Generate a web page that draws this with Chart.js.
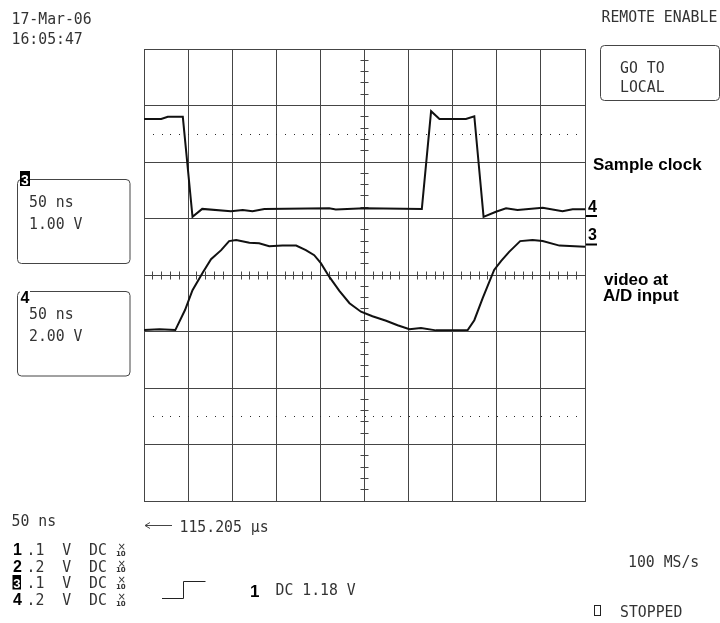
<!DOCTYPE html>
<html>
<head>
<meta charset="utf-8">
<script src="https://cdn.jsdelivr.net/npm/chart.js@4"></script>
<style>
  html, body { margin: 0; padding: 0; background: #fff; }
  #wrap { width: 720px; height: 623px; position: relative; }
</style>
</head>
<body>
<div id="wrap"><canvas id="scope"></canvas></div>
<script>
// trace values in screen divisions (x: 0..10, y: -4..4)
const clockX = [0, 0.39, 0.54, 0.88, 1.10, 1.32, 1.97, 2.24, 2.46, 2.73, 4.20, 4.35, 5.00, 6.30, 6.51, 6.70, 7.30, 7.49, 7.70, 7.98, 8.21, 8.47, 9.04, 9.49, 9.72, 10];
const clockY = [2.76, 2.76, 2.80, 2.80, 1.03, 1.17, 1.13, 1.15, 1.13, 1.17, 1.18, 1.16, 1.18, 1.17, 2.90, 2.76, 2.76, 2.81, 1.03, 1.12, 1.18, 1.15, 1.19, 1.13, 1.165, 1.165];
const videoX = [0, 0.35, 0.71, 0.93, 1.10, 1.33, 1.52, 1.75, 1.93, 2.09, 2.39, 2.61, 2.84, 3.14, 3.45, 3.67, 3.86, 4.01, 4.20, 4.43, 4.66, 4.92, 5.18, 5.49, 5.75, 6.02, 6.28, 6.62, 7.34, 7.49, 7.68, 7.94, 8.10, 8.28, 8.53, 8.81, 9.04, 9.42, 10];
const videoY = [-0.975, -0.96, -0.975, -0.62, -0.27, 0.04, 0.28, 0.44, 0.60, 0.62, 0.57, 0.56, 0.51, 0.52, 0.52, 0.44, 0.35, 0.21, -0.03, -0.28, -0.50, -0.65, -0.73, -0.81, -0.89, -0.96, -0.94, -0.98, -0.975, -0.80, -0.41, 0.09, 0.25, 0.41, 0.60, 0.62, 0.60, 0.52, 0.50];
const dottedLevels = [2.5, -2.5];

// screen texts
const headerLines = ['17-Mar-06', '16:05:47'];
const remoteText = 'REMOTE ENABLE';
const localLines = ['GO TO', 'LOCAL'];
const ch3Lines = ['50 ns', '1.00 V'];
const ch4Lines = ['50 ns', '2.00 V'];
const timebaseText = '50 ns';
const delayText = '115.205 µs';
const channelIds = ['1', '2', '3', '4'];
const channelScales = ['.1  V  DC', '.2  V  DC', '.1  V  DC', '.2  V  DC'];
const triggerSource = '1';
const triggerText = 'DC 1.18 V';
const rateText = '100 MS/s';
const stateText = 'STOPPED';
const clockLabel = 'Sample clock';
const videoLabel = ['video at', 'A/D input'];

const GRID = '#454545';
const INK = '#333';

const toPoints = (xs, ys) => xs.map((v, i) => ({x: v, y: ys[i]}));
const align = p => Math.round(p - 0.5) + 0.5;

function mono(ctx, s, x, y) {
  ctx.save();
  ctx.font = '16px "DejaVu Sans Mono", monospace';
  ctx.translate(x, y);
  ctx.scale(0.925, 1);
  ctx.fillText(s, 0, 0);
  ctx.restore();
}

function bold(ctx, s, x, y, size) {
  ctx.font = 'bold ' + size + 'px "Liberation Sans", Arial, sans-serif';
  ctx.fillText(s, x, y);
}

function roundBox(ctx, x, y, w, h, r) {
  ctx.beginPath();
  ctx.moveTo(x + r, y);
  ctx.arcTo(x + w, y, x + w, y + h, r);
  ctx.arcTo(x + w, y + h, x, y + h, r);
  ctx.arcTo(x, y + h, x, y, r);
  ctx.arcTo(x, y, x + w, y, r);
  ctx.closePath();
  ctx.stroke();
}

const scopeOverlay = {
  id: 'scopeOverlay',
  beforeDatasetsDraw(chart) {
    const {ctx, scales: {x, y}} = chart;
    ctx.save();
    // dotted reference levels
    ctx.fillStyle = '#2a2a2a';
    dottedLevels.forEach(level => {
      const py = Math.round(y.getPixelForValue(level));
      for (let k = 1; k < 50; k++) {
        ctx.fillRect(Math.round(x.getPixelForValue(k / 5)), py, 1, 1);
      }
    });
    // minor ticks on the centre cross
    ctx.strokeStyle = GRID;
    ctx.lineWidth = 1;
    const cx = align(x.getPixelForValue(5));
    const cy = align(y.getPixelForValue(0));
    ctx.beginPath();
    for (let k = 1; k < 50; k++) {
      if (k % 5 === 0) continue;
      const px = align(x.getPixelForValue(k / 5));
      ctx.moveTo(px, cy - 4);
      ctx.lineTo(px, cy + 4);
    }
    for (let k = -19; k < 20; k++) {
      if (k % 5 === 0) continue;
      const py = align(y.getPixelForValue(k / 5));
      ctx.moveTo(cx - 4, py);
      ctx.lineTo(cx + 4, py);
    }
    ctx.stroke();
    ctx.restore();
  },
  afterDraw(chart) {
    const ctx = chart.ctx;
    ctx.save();
    ctx.textBaseline = 'alphabetic';
    ctx.fillStyle = INK;
    ctx.strokeStyle = GRID;
    ctx.lineWidth = 1;

    // top corners
    mono(ctx, headerLines[0], 11.5, 23.5);
    mono(ctx, headerLines[1], 11.5, 43.5);
    mono(ctx, remoteText, 601.5, 22);
    roundBox(ctx, 600.5, 45.5, 119, 55, 4);
    mono(ctx, localLines[0], 620, 72.5);
    mono(ctx, localLines[1], 620, 91.5);

    // channel boxes
    roundBox(ctx, 17.5, 179.5, 112.5, 84, 4);
    mono(ctx, ch3Lines[0], 29, 206.5);
    mono(ctx, ch3Lines[1], 29, 229);
    roundBox(ctx, 17.5, 291.5, 112.5, 84.5, 4);
    mono(ctx, ch4Lines[0], 29, 319);
    mono(ctx, ch4Lines[1], 29, 341);

    ctx.fillStyle = '#000';
    ctx.fillRect(20, 171, 10, 15);
    ctx.fillStyle = '#fff';
    bold(ctx, '3', 21, 184.5, 14);
    ctx.fillRect(20, 286, 10, 12);
    ctx.fillStyle = '#000';
    bold(ctx, '4', 20.5, 302.5, 16);

    // bottom area
    ctx.fillStyle = INK;
    mono(ctx, timebaseText, 11.5, 525.5);
    ctx.beginPath();
    ctx.moveTo(145, 525.5); ctx.lineTo(172, 525.5);
    ctx.moveTo(145, 525.5); ctx.lineTo(150, 522.5);
    ctx.moveTo(145, 525.5); ctx.lineTo(150, 528.5);
    ctx.stroke();
    mono(ctx, delayText, 179.5, 531.5);

    const rowBase = [555, 571.7, 588.3, 605];
    rowBase.forEach((by, i) => {
      ctx.fillStyle = '#000';
      if (i === 2) {
        ctx.fillRect(12.5, 575, 8.5, 14.5);
        ctx.fillStyle = '#fff';
        bold(ctx, channelIds[i], 13.3, by - 0.5, 13);
      } else {
        bold(ctx, channelIds[i], 13, by, 16);
      }
      ctx.fillStyle = INK;
      mono(ctx, channelScales[i], 26.6, by);
      ctx.font = '10px "DejaVu Sans", sans-serif';
      ctx.fillText('×', 117.5, by - 5);
      ctx.font = 'bold 7px "DejaVu Sans", sans-serif';
      ctx.fillText('10', 116, by + 0.5);
    });

    ctx.strokeStyle = '#222';
    ctx.beginPath();
    ctx.moveTo(162, 598.5); ctx.lineTo(183.5, 598.5);
    ctx.lineTo(183.5, 581.5); ctx.lineTo(205.5, 581.5);
    ctx.stroke();
    ctx.fillStyle = '#000';
    bold(ctx, triggerSource, 250, 596.5, 17);
    ctx.fillStyle = INK;
    mono(ctx, triggerText, 275.5, 595);
    mono(ctx, rateText, 628, 567);
    ctx.strokeRect(594.5, 605.5, 6, 10);
    mono(ctx, stateText, 620, 616.5);

    // trace markers and annotations on the right
    ctx.fillStyle = '#000';
    bold(ctx, '4', 588, 212, 16);
    ctx.fillRect(586, 215, 11, 2);
    bold(ctx, '3', 588, 239.5, 16);
    ctx.fillRect(586, 243.5, 11, 2);
    bold(ctx, clockLabel, 593, 170, 17);
    bold(ctx, videoLabel[0], 604, 285, 17);
    bold(ctx, videoLabel[1], 603, 300.5, 17);
    ctx.restore();
  }
};

const axisOpts = (min, max) => ({
  type: 'linear',
  min: min,
  max: max,
  ticks: {display: false, stepSize: 1},
  grid: {color: GRID, lineWidth: 1, drawTicks: false},
  border: {color: GRID, width: 1}
});

new Chart(document.getElementById('scope'), {
  type: 'line',
  data: {
    datasets: [
      {label: 'Sample clock', data: toPoints(clockX, clockY), borderColor: '#111', borderWidth: 2, pointRadius: 0, tension: 0},
      {label: 'video at A/D input', data: toPoints(videoX, videoY), borderColor: '#111', borderWidth: 2, pointRadius: 0, tension: 0}
    ]
  },
  options: {
    responsive: true,
    maintainAspectRatio: false,
    animation: false,
    layout: {padding: {left: 144, right: 135, top: 49, bottom: 122}},
    plugins: {legend: {display: false}, tooltip: {enabled: false}},
    scales: {x: axisOpts(0, 10), y: axisOpts(-4, 4)}
  },
  plugins: [scopeOverlay]
});
</script>
</body>
</html>
